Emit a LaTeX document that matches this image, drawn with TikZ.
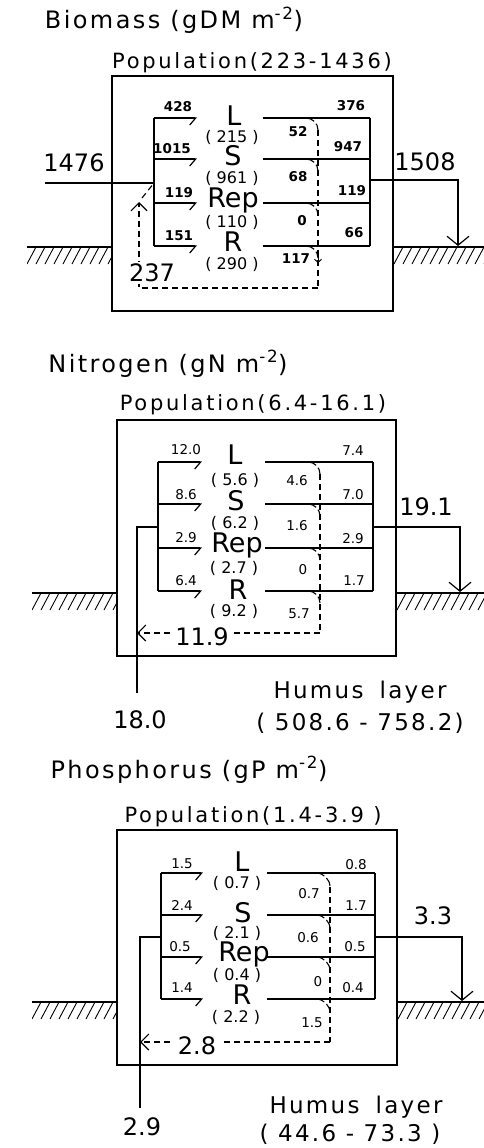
\documentclass[tikz,border=0pt]{standalone}
\usepackage{fontspec}
\setmainfont{DejaVu Sans}
\usetikzlibrary{arrows.meta}
\begin{document}
\begin{tikzpicture}[x=1pt,y=-1pt,
  every node/.style={inner sep=0pt,outer sep=0pt},
  boxline/.style={line width=1.2pt},
  flow/.style={line width=1.2pt},
  ret/.style={line width=1.1pt,dash pattern=on 6pt off 4pt},
  arcl/.style={line width=1.1pt,dash pattern=on 9pt off 3pt},
  inarrow/.style={-{Straight Barb[harpoon,swap,length=6pt,width=14pt]}},
  outarrow/.style={-{Straight Barb[length=9pt,width=22pt]}},
  retarrow/.style={-{Straight Barb[length=8pt,width=16pt]}},
  hatchl/.style={line width=0.9pt},
  ttl/.style={font=\fontsize{24}{24}\selectfont\addfontfeature{LetterSpace=10}},
  pop/.style={font=\fontsize{21}{21}\selectfont\addfontfeature{LetterSpace=13}},
  comp/.style={font=\fontsize{27}{27}\selectfont},
  stock/.style={font=\fontsize{16}{16}\selectfont},
  fl/.style={font=\fontsize{13.5}{13.5}\selectfont},
  flb/.style={font=\bfseries\fontsize{13.5}{13.5}\selectfont},
  big/.style={font=\fontsize{24}{24}\selectfont},
  hum/.style={font=\fontsize{23}{23}\selectfont\addfontfeature{LetterSpace=10}},
]
\useasboundingbox (0,0) rectangle (484,1148);

% ================= Panel 1: Biomass =================
\node[ttl,anchor=base] (A-title) at (174,29) {Biomass (gDM m\textsuperscript{-2})};
\node[pop,anchor=base] (A-pop) at (252,69) {Population(223-1436)};
\draw[boxline] (112,76) rectangle (393,311);
% ground
\draw[flow] (27,247) -- (112,247);
\draw[flow] (393,247) -- (484,247);
\begin{scope}
  \clip (27,247) rectangle (112,264);
  \foreach \x in {18,27,...,120} \draw[hatchl] (\x,264) -- (\x+9,247);
\end{scope}
\begin{scope}
  \clip (393,247) rectangle (484,264);
  \foreach \x in {385,394,...,490} \draw[hatchl] (\x,264) -- (\x+9,247);
\end{scope}
% inner structure
\coordinate (A-lt) at (154,118); \coordinate (A-lb) at (154,246);
\draw[flow] (A-lt) -- (A-lb);
\foreach \n/\y in {L/118,S/159,Rep/203,R/246}{
  \coordinate (A-in\n) at (154,\y);
  \coordinate (A-tip\n) at (197,\y);
  \draw[flow,inarrow] (A-in\n) -- (A-tip\n);
  \coordinate (A-rs\n) at (263,\y);
  \coordinate (A-re\n) at (370,\y);
  \draw[flow] (A-rs\n) -- (A-re\n);
  \coordinate (A-as\n) at (306,\y);
  \coordinate (A-ae\n) at (318,\y+12);
  \draw[arcl] (A-as\n) .. controls +(6.6,0) and +(0,-6.6) .. (A-ae\n);
}
\draw[flow] (A-reL) -- (A-reR);
% input / output
\coordinate (A-src) at (45,183); \coordinate (A-inj) at (154,183);
\draw[flow] (A-src) -- (A-inj);
\coordinate (A-out) at (370,180); \coordinate (A-oc) at (458,180); \coordinate (A-gnd) at (458,246);
\draw[flow,outarrow] (A-out) -- (A-oc) -- (A-gnd);
% return
\coordinate (A-vb) at (318,288); \coordinate (A-vl) at (139,288); \coordinate (A-up) at (139,202);
\draw[ret] (A-aeL) -- (A-vb);
\draw[ret,retarrow] (A-vb) -- (A-vl) -- (A-up);
\coordinate (A-d1) at (142,198);
\draw[ret] (A-d1) -- (A-inj);
\draw[line width=1pt,-{Straight Barb[length=3pt,width=7pt]}] (318,256) -- (318,263);
% labels
\node[big] (A-in) at (74,163) {1476};
\node[big] (A-outv) at (425,162) {1508};
\node[big,fill=white,inner ysep=2pt] (A-retv) at (152,273) {237};
\node[comp,anchor=base] (A-L) at (234,125) {L};
\node[comp,anchor=base] (A-S) at (233,165) {S};
\node[comp,anchor=base] (A-Rep) at (233,207.5) {Rep};
\node[comp,anchor=base] (A-R) at (233,251) {R};
\node[stock] (A-sL) at (232,137) {( 215 )};
\node[stock] (A-sS) at (232,178) {( 961 )};
\node[stock] (A-sRep) at (232,222.5) {( 110 )};
\node[stock] (A-sR) at (232,264) {( 290 )};
\node[flb] (A-fL) at (178,107) {428};
\node[flb] (A-fS) at (172,149) {1015};
\node[flb] (A-fRep) at (179,193) {119};
\node[flb] (A-fR) at (179,236) {151};
\node[flb] (A-gL) at (351,106) {376};
\node[flb] (A-gS) at (348,147) {947};
\node[flb] (A-gRep) at (352,191) {119};
\node[flb] (A-gR) at (354,233) {66};
\node[flb] (A-dL) at (298,132) {52};
\node[flb] (A-dS) at (298,177) {68};
\node[flb] (A-dRep) at (302,221) {0};
\node[flb] (A-dR) at (296,259) {117};

% ================= Panel 2: Nitrogen =================
\node[ttl,anchor=base] (B-title) at (168,372) {Nitrogen (gN m\textsuperscript{-2})};
\node[pop,anchor=base] (B-pop) at (253,410) {Population(6.4-16.1)};
\draw[boxline] (117,420) rectangle (396,656);
\draw[flow] (32,593) -- (117,593);
\draw[flow] (396,593) -- (484,593);
\begin{scope}
  \clip (32,593) rectangle (117,610);
  \foreach \x in {23,32,...,125} \draw[hatchl] (\x,610) -- (\x+9,593);
\end{scope}
\begin{scope}
  \clip (396,593) rectangle (484,610);
  \foreach \x in {388,397,...,490} \draw[hatchl] (\x,610) -- (\x+9,593);
\end{scope}
\coordinate (B-lt) at (158,462); \coordinate (B-lb) at (158,591);
\draw[flow] (B-lt) -- (B-lb);
\foreach \n/\y in {L/462,S/504,Rep/548,R/591}{
  \coordinate (B-in\n) at (158,\y);
  \coordinate (B-tip\n) at (202,\y);
  \draw[flow,inarrow] (B-in\n) -- (B-tip\n);
  \coordinate (B-rs\n) at (265,\y);
  \coordinate (B-re\n) at (373,\y);
  \draw[flow] (B-rs\n) -- (B-re\n);
  \coordinate (B-as\n) at (308,\y);
  \coordinate (B-ae\n) at (320,\y+12);
  \draw[arcl] (B-as\n) .. controls +(6.6,0) and +(0,-6.6) .. (B-ae\n);
}
\draw[flow] (B-reL) -- (B-reR);
\coordinate (B-src) at (137,693); \coordinate (B-sc) at (137,527); \coordinate (B-inj) at (158,527);
\draw[flow] (B-src) -- (B-sc) -- (B-inj);
\coordinate (B-out) at (373,527); \coordinate (B-oc) at (460,527); \coordinate (B-gnd) at (460,592);
\draw[flow,outarrow] (B-out) -- (B-oc) -- (B-gnd);
\coordinate (B-vb) at (320,633); \coordinate (B-vl) at (137,633);
\draw[ret] (B-aeL) -- (B-vb);
\draw[ret,retarrow] (B-vb) -- (B-vl);
\node[big,fill=white,inner xsep=4pt] (B-retv) at (202,637) {11.9};
\node[big] (B-outv) at (426,507) {19.1};
\node[big] (B-inv) at (140,720) {18.0};
\node[hum,anchor=base] (B-hum) at (360,698) {Humus\hspace{16pt}layer};
\node[hum,anchor=base] (B-humv) at (360,730) {( 508.6 - 758.2)};
\node[comp,anchor=base] (B-L) at (235,464) {L};
\node[comp,anchor=base] (B-S) at (236,510) {S};
\node[comp,anchor=base] (B-Rep) at (237,552) {Rep};
\node[comp,anchor=base] (B-R) at (238,599) {R};
\node[stock] (B-sL) at (235,480) {( 5.6 )};
\node[stock] (B-sS) at (235,523) {( 6.2 )};
\node[stock] (B-sRep) at (234,568) {( 2.7 )};
\node[stock] (B-sR) at (234,611) {( 9.2 )};
\node[fl] (B-fL) at (186,450) {12.0};
\node[fl] (B-fS) at (186,495) {8.6};
\node[fl] (B-fRep) at (186,538) {2.9};
\node[fl] (B-fR) at (186,581) {6.4};
\node[fl] (B-gL) at (353,451) {7.4};
\node[fl] (B-gS) at (353,495) {7.0};
\node[fl] (B-gRep) at (353,539) {2.9};
\node[fl] (B-gR) at (354,581) {1.7};
\node[fl] (B-dL) at (297,481) {4.6};
\node[fl] (B-dS) at (297,526) {1.6};
\node[fl] (B-dRep) at (303,570) {0};
\node[fl] (B-dR) at (299,614) {5.7};

% ================= Panel 3: Phosphorus =================
\node[ttl,anchor=base] (C-title) at (189,778) {Phosphorus (gP m\textsuperscript{-2})};
\node[pop,anchor=base] (C-pop) at (253,822) {Population(1.4-3.9 )};
\draw[boxline] (117,830) rectangle (397,1065);
\draw[flow] (32,1002) -- (117,1002);
\draw[flow] (397,1002) -- (484,1002);
\begin{scope}
  \clip (32,1002) rectangle (117,1019);
  \foreach \x in {23,32,...,125} \draw[hatchl] (\x,1019) -- (\x+9,1002);
\end{scope}
\begin{scope}
  \clip (397,1002) rectangle (484,1019);
  \foreach \x in {389,398,...,490} \draw[hatchl] (\x,1019) -- (\x+9,1002);
\end{scope}
\coordinate (C-lt) at (161,873); \coordinate (C-lb) at (161,999);
\draw[flow] (C-lt) -- (C-lb);
\foreach \n/\y in {L/873,S/915,Rep/957,R/999}{
  \coordinate (C-in\n) at (161,\y);
  \coordinate (C-tip\n) at (203,\y);
  \draw[flow,inarrow] (C-in\n) -- (C-tip\n);
  \coordinate (C-rs\n) at (267,\y);
  \coordinate (C-re\n) at (375,\y);
  \draw[flow] (C-rs\n) -- (C-re\n);
  \coordinate (C-as\n) at (316,\y);
  \coordinate (C-ae\n) at (330,\y+14);
  \draw[arcl] (C-as\n) .. controls +(7.7,0) and +(0,-7.7) .. (C-ae\n);
}
\draw[flow] (C-reL) -- (C-reR);
\coordinate (C-src) at (140,1108); \coordinate (C-sc) at (140,937); \coordinate (C-inj) at (161,937);
\draw[flow] (C-src) -- (C-sc) -- (C-inj);
\coordinate (C-out) at (375,937); \coordinate (C-oc) at (462,937); \coordinate (C-gnd) at (462,1001);
\draw[flow,outarrow] (C-out) -- (C-oc) -- (C-gnd);
\coordinate (C-vb) at (330,1042); \coordinate (C-vl) at (140,1042);
\draw[ret] (C-aeL) -- (C-vb);
\draw[ret,retarrow] (C-vb) -- (C-vl);
\node[big,fill=white,inner xsep=4pt] (C-retv) at (197,1046) {2.8};
\node[big] (C-outv) at (433,916) {3.3};
\node[big] (C-inv) at (142,1127) {2.9};
\node[hum,anchor=base] (C-hum) at (356,1113) {Humus\hspace{16pt}layer};
\node[hum] (C-humv) at (350,1134) {( 44.6 - 73.3 )};
\node[comp,anchor=base] (C-L) at (242,871) {L};
\node[comp,anchor=base] (C-S) at (243,922) {S};
\node[comp,anchor=base] (C-Rep) at (244,961.5) {Rep};
\node[comp,anchor=base] (C-R) at (242,1004.5) {R};
\node[stock] (C-sL) at (237,883) {( 0.7 )};
\node[stock] (C-sS) at (237,933) {( 2.1 )};
\node[stock] (C-sRep) at (237,975.5) {( 0.4 )};
\node[stock] (C-sR) at (236,1017) {( 2.2 )};
\node[fl] (C-fL) at (182,864) {1.5};
\node[fl] (C-fS) at (182,905) {2.4};
\node[fl] (C-fRep) at (180,947) {0.5};
\node[fl] (C-fR) at (182,988) {1.4};
\node[fl] (C-gL) at (356,865) {0.8};
\node[fl] (C-gS) at (356,906) {1.7};
\node[fl] (C-gRep) at (355,947) {0.5};
\node[fl] (C-gR) at (353,988) {0.4};
\node[fl] (C-dL) at (309,894) {0.7};
\node[fl] (C-dS) at (308,938) {0.6};
\node[fl] (C-dRep) at (318,982) {0};
\node[fl] (C-dR) at (312,1023) {1.5};
\end{tikzpicture}
\end{document}
